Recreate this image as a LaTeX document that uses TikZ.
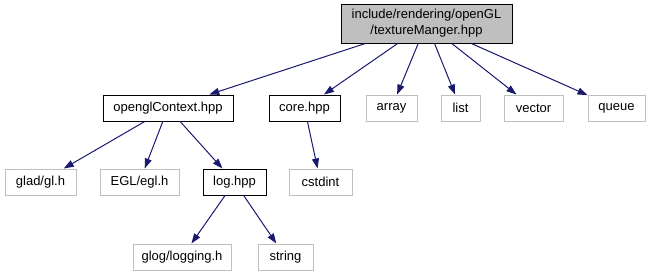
\documentclass[tikz,border=0pt]{standalone}
\usepackage{fontspec}
\setmainfont{Liberation Sans}
\usetikzlibrary{arrows.meta}
\definecolor{edgeblue}{HTML}{191970}
\definecolor{boxgray}{HTML}{BFBFBF}
\begin{document}
\begin{tikzpicture}[x=1pt, y=-1pt,
    hdr/.style={draw=black, line width=1pt, inner sep=0pt, minimum height=26pt,
      font=\fontsize{13}{16}\selectfont},
    sys/.style={hdr, draw=boxgray},
    dep/.style={draw=edgeblue, line width=1pt, -{Triangle[length=10pt, width=7pt]}}]
  \useasboundingbox (0, 0) rectangle (651, 276);

  % the file itself
  \node[hdr, fill=boxgray, minimum width=171pt, minimum height=39pt, align=center]
    (tex) at (426.5, 23.5) {include/rendering/openGL\\/textureManger.hpp};

  % first level
  \node[hdr, minimum width=130pt] (ctx) at (168, 108) {openglContext.hpp};
  \node[hdr, minimum width=71pt] (core) at (304.5, 108) {core.hpp};
  \node[sys, minimum width=51pt] (array) at (391.5, 108) {array};
  \node[sys, minimum width=39pt] (list) at (460.5, 108) {list};
  \node[sys, minimum width=59pt] (vector) at (533.5, 108) {vector};
  \node[sys, minimum width=57pt] (queue) at (616.5, 108) {queue};

  % second level
  \node[sys, minimum width=71pt] (glad) at (40.5, 182) {glad/gl.h};
  \node[sys, minimum width=79pt] (egl) at (139.5, 182) {EGL/egl.h};
  \node[hdr, minimum width=63pt] (log) at (234.5, 182) {log.hpp};
  \node[sys, minimum width=63pt] (cstdint) at (320.5, 182) {cstdint};

  % third level
  \node[sys, minimum width=98pt] (glog) at (182, 257) {glog/logging.h};
  \node[sys, minimum width=55pt] (string) at (285.5, 257) {string};

  \draw[dep] (tex) -- (ctx);
  \draw[dep] (tex) -- (core);
  \draw[dep] (tex) -- (array);
  \draw[dep] (tex) -- (list);
  \draw[dep] (tex) -- (vector);
  \draw[dep] (tex) -- (queue);

  \draw[dep] (ctx) -- (glad);
  \draw[dep] (ctx) -- (egl);
  \draw[dep] (ctx) -- (log);
  \draw[dep] (core) -- (cstdint);

  \draw[dep] (log) -- (glog);
  \draw[dep] (log) -- (string);
\end{tikzpicture}
\end{document}
